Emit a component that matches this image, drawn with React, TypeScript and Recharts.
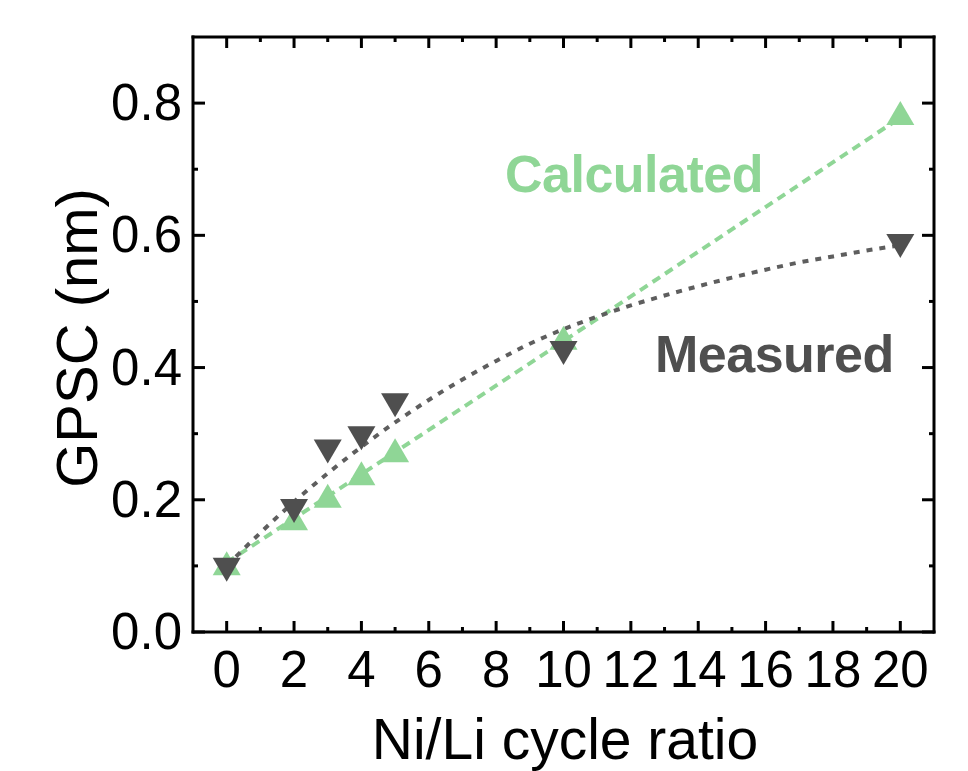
import React from "react";
import { ComposedChart, Line, Scatter, XAxis, YAxis, Customized } from "recharts";

// cycle ratios and GPSC values (nm)
const cycleRatio = [0, 2, 3, 4, 5, 10, 20];
const calculatedGpsc = [0.104, 0.172, 0.206, 0.24, 0.275, 0.445, 0.785];
const measuredGpsc = [0.094, 0.183, 0.273, 0.293, 0.343, 0.422, 0.584];

// dotted guide curves
const calcFitX = [0, 5, 10, 15, 20];
const calcFitY = [0.105, 0.272, 0.44, 0.609, 0.778];
const measFitX = [0, 1, 2, 3, 4, 5, 6, 7, 8, 9, 10, 11, 12, 13, 14, 15, 16, 17, 18, 19, 20];
const measFitY = [
  0.1, 0.15, 0.197, 0.24, 0.28, 0.317, 0.351, 0.382, 0.41, 0.436, 0.458,
  0.477, 0.494, 0.509, 0.523, 0.536, 0.548, 0.559, 0.568, 0.577, 0.585,
];

const xTicks = [0, 1, 2, 3, 4, 5, 6, 7, 8, 9, 10, 11, 12, 13, 14, 15, 16, 17, 18, 19, 20];
const yTicks = [0, 0.1, 0.2, 0.3, 0.4, 0.5, 0.6, 0.7, 0.8];

const GREEN = "#8fd696";
const DARK = "#4f4f4f";
const FONT = "'Liberation Sans', Arial, Helvetica, sans-serif";

const calcPoints = cycleRatio.map((x, i) => ({ x, y: calculatedGpsc[i] }));
const measPoints = cycleRatio.map((x, i) => ({ x, y: measuredGpsc[i] }));
const calcFit = calcFitX.map((x, i) => ({ x, y: calcFitY[i] }));
const measFit = measFitX.map((x, i) => ({ x, y: measFitY[i] }));

const isMajorX = (v: number) => Math.round(v) % 2 === 0;
const isMajorY = (v: number) => Math.round(v * 10) % 2 === 0;

const BottomTick = ({ x, y, payload }: any) => {
  const major = isMajorX(payload.value);
  return (
    <g>
      <line x1={x} x2={x} y1={y} y2={y - (major ? 11 : 5)} stroke="#000" strokeWidth={3} />
      {major && (
        <text x={x} y={y + 55} textAnchor="middle" fontFamily={FONT} fontSize={51} fill="#000">
          {payload.value}
        </text>
      )}
    </g>
  );
};

const TopTick = ({ x, y, payload }: any) => (
  <line x1={x} x2={x} y1={y} y2={y + (isMajorX(payload.value) ? 11 : 5)} stroke="#000" strokeWidth={3} />
);

const LeftTick = ({ x, y, payload }: any) => {
  const major = isMajorY(payload.value);
  return (
    <g>
      <line x1={x} x2={x + (major ? 12 : 5)} y1={y} y2={y} stroke="#000" strokeWidth={3} />
      {major && (
        <text x={x - 11} y={y + 17} textAnchor="end" fontFamily={FONT} fontSize={51} fill="#000">
          {payload.value.toFixed(1)}
        </text>
      )}
    </g>
  );
};

const RightTick = ({ x, y, payload }: any) => (
  <line x1={x} x2={x - (isMajorY(payload.value) ? 12 : 5)} y1={y} y2={y} stroke="#000" strokeWidth={3} />
);

const UpTriangle = ({ cx, cy }: any) => (
  <polygon points={`${cx},${cy - 12} ${cx + 14},${cy + 12} ${cx - 14},${cy + 12}`} fill={GREEN} />
);

const DownTriangle = ({ cx, cy }: any) => (
  <polygon points={`${cx},${cy + 12} ${cx + 14},${cy - 12} ${cx - 14},${cy - 12}`} fill={DARK} />
);

const Texts = () => (
  <g fontFamily={FONT}>
    <text x={505} y={192} fontSize={52} fontWeight="bold" letterSpacing={-0.5} fill={GREEN}>
      Calculated
    </text>
    <text x={655} y={372} fontSize={52} fontWeight="bold" letterSpacing={-0.5} fill={DARK}>
      Measured
    </text>
    <text x={565} y={759} fontSize={57} textAnchor="middle" fill="#000">
      Ni/Li cycle ratio
    </text>
    <text
      x={0}
      y={0}
      fontSize={58}
      textAnchor="middle"
      fill="#000"
      transform="translate(97, 338) rotate(-90)"
    >
      GPSC (nm)
    </text>
  </g>
);

export default function App() {
  const axisLine = { stroke: "#000", strokeWidth: 3, strokeLinecap: "square" as const };
  return (
    <div style={{ position: "absolute", left: 0, top: 0, background: "#fff" }}>
      <ComposedChart
        width={968}
        height={771}
        margin={{ top: 35, right: 32, bottom: 79, left: 133 }}
      >
        <XAxis
          dataKey="x"
          type="number"
          domain={[-1, 21]}
          ticks={xTicks}
          interval={0}
          height={60}
          tickSize={0}
          tickMargin={0}
          tickLine={false}
          axisLine={axisLine}
          tick={<BottomTick />}
          allowDataOverflow
        />
        <XAxis
          xAxisId="top"
          orientation="top"
          dataKey="x"
          type="number"
          domain={[-1, 21]}
          ticks={xTicks}
          interval={0}
          height={2}
          tickSize={0}
          tickMargin={0}
          tickLine={false}
          axisLine={axisLine}
          tick={<TopTick />}
          allowDataOverflow
        />
        <YAxis
          dataKey="y"
          type="number"
          domain={[0, 0.9]}
          ticks={yTicks}
          interval={0}
          width={60}
          tickSize={0}
          tickMargin={0}
          tickLine={false}
          axisLine={axisLine}
          tick={<LeftTick />}
          allowDataOverflow
        />
        <YAxis
          yAxisId="right"
          orientation="right"
          dataKey="y"
          type="number"
          domain={[0, 0.9]}
          ticks={yTicks}
          interval={0}
          width={2}
          tickSize={0}
          tickMargin={0}
          tickLine={false}
          axisLine={axisLine}
          tick={<RightTick />}
          allowDataOverflow
        />
        <Line
          data={calcFit}
          dataKey="y"
          type="linear"
          stroke={GREEN}
          strokeWidth={4}
          strokeDasharray="9 6"
          dot={false}
          activeDot={false}
          isAnimationActive={false}
        />
        <Line
          data={measFit}
          dataKey="y"
          type="monotone"
          stroke="#5e5e5e"
          strokeWidth={4}
          strokeDasharray="6 7"
          dot={false}
          activeDot={false}
          isAnimationActive={false}
        />
        <Scatter data={calcPoints} dataKey="y" shape={<UpTriangle />} isAnimationActive={false} />
        <Scatter data={measPoints} dataKey="y" shape={<DownTriangle />} isAnimationActive={false} />
        <Customized component={<Texts />} />
      </ComposedChart>
    </div>
  );
}
